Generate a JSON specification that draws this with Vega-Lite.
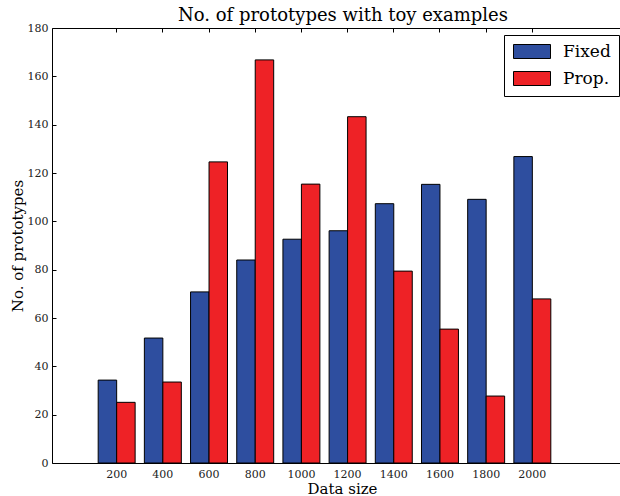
{
  "$schema": "https://vega.github.io/schema/vega-lite/v6.json",
  "width": 568,
  "height": 435,
  "autosize": "none",
  "padding": {"left": 52, "top": 28, "right": 0, "bottom": 33},
  "background": "white",
  "config": {
    "font": "DejaVu Serif",
    "view": {"stroke": "black", "strokeWidth": 1},
    "axis": {
      "domain": false,
      "grid": false,
      "labelFont": "DejaVu Serif",
      "labelFontSize": 11,
      "labelColor": "#222222",
      "tickColor": "black",
      "tickWidth": 1,
      "tickSize": -4,
      "labelPadding": 8,
      "titleFont": "DejaVu Serif",
      "titleFontSize": 15,
      "titleFontWeight": "normal",
      "titleColor": "black"
    }
  },
  "title": {
    "text": "No. of prototypes with toy examples",
    "font": "DejaVu Serif",
    "fontSize": 18,
    "fontWeight": "normal",
    "color": "black",
    "anchor": "middle",
    "dx": 7,
    "dy": 7,
    "offset": 4
  },
  "data": {
    "values": [
      {"size": 200, "series": "Fixed", "value": 34.3},
      {"size": 400, "series": "Fixed", "value": 51.7},
      {"size": 600, "series": "Fixed", "value": 70.8},
      {"size": 800, "series": "Fixed", "value": 84.0},
      {"size": 1000, "series": "Fixed", "value": 92.6},
      {"size": 1200, "series": "Fixed", "value": 96.1},
      {"size": 1400, "series": "Fixed", "value": 107.3},
      {"size": 1600, "series": "Fixed", "value": 115.3},
      {"size": 1800, "series": "Fixed", "value": 109.1},
      {"size": 2000, "series": "Fixed", "value": 126.8},
      {"size": 200, "series": "Prop.", "value": 25.1},
      {"size": 400, "series": "Prop.", "value": 33.5},
      {"size": 600, "series": "Prop.", "value": 124.6},
      {"size": 800, "series": "Prop.", "value": 166.8},
      {"size": 1000, "series": "Prop.", "value": 115.4},
      {"size": 1200, "series": "Prop.", "value": 143.3},
      {"size": 1400, "series": "Prop.", "value": 79.4},
      {"size": 1600, "series": "Prop.", "value": 55.4},
      {"size": 1800, "series": "Prop.", "value": 27.7},
      {"size": 2000, "series": "Prop.", "value": 67.9}
    ]
  },
  "layer": [
    {
      "mark": {"type": "bar", "stroke": "black", "strokeWidth": 1, "opacity": 1},
      "encoding": {
        "x": {
          "field": "size",
          "type": "ordinal",
          "scale": {"paddingInner": 0.2, "paddingOuter": 1, "align": 0.5, "range": [0, 545]},
          "axis": {"orient": "bottom", "labelAngle": 0, "title": "Data size", "titleX": 290, "titlePadding": 2, "labelPadding": 9}
        },
        "xOffset": {
          "field": "series",
          "type": "nominal",
          "sort": ["Fixed", "Prop."],
          "scale": {"paddingInner": 0, "paddingOuter": 0}
        },
        "y": {
          "field": "value",
          "type": "quantitative",
          "scale": {"domain": [0, 180], "nice": false},
          "axis": {"values": [0, 20, 40, 60, 80, 100, 120, 140, 160, 180], "title": "No. of prototypes", "titlePadding": 2}
        },
        "color": {
          "field": "series",
          "type": "nominal",
          "sort": ["Fixed", "Prop."],
          "scale": {"domain": ["Fixed", "Prop."], "range": ["#2e4e9f", "#ee2226"]},
          "legend": {
            "title": null,
            "orient": "none",
            "legendX": 452,
            "legendY": 7,
            "padding": 8,
            "rowPadding": 8,
            "strokeColor": "black",
            "fillColor": "white",
            "cornerRadius": 0,
            "symbolType": "M-1,-1H4.2857V1H-1Z",
            "symbolSize": 196,
            "symbolStrokeColor": "black",
            "symbolStrokeWidth": 1,
            "symbolOpacity": 1,
            "labelFont": "DejaVu Serif",
            "labelFontSize": 17,
            "labelColor": "black",
            "labelOffset": 34
          }
        }
      }
    },
    {
      "mark": {"type": "tick", "opacity": 0},
      "encoding": {
        "x": {
          "field": "size",
          "type": "ordinal",
          "scale": {"paddingInner": 0.2, "paddingOuter": 1, "align": 0.5, "range": [0, 545]},
          "axis": {"orient": "top", "labels": false, "title": null}
        }
      }
    }
  ],
  "resolve": {"axis": {"x": "independent"}}
}
